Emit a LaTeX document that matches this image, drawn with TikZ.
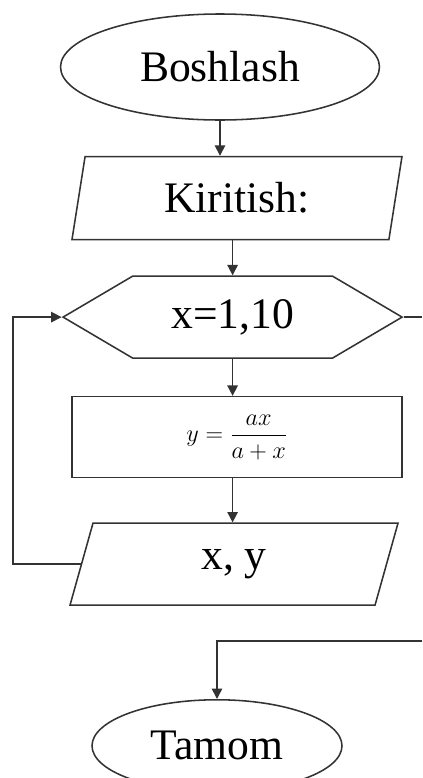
\documentclass[tikz,border=0pt]{standalone}
\usepackage{fontspec}
\setmainfont{Liberation Serif}
\usepackage{amsmath}
\usetikzlibrary{positioning,arrows.meta,shapes.geometric,shapes.symbols}
\definecolor{edgegray}{HTML}{333333}
\tikzset{
  term/.style={ellipse, draw=edgegray, line width=1.1pt, inner sep=0pt,
               font=\fontsize{31}{36}\selectfont},
  io/.style={trapezium, trapezium stretches body, draw=edgegray, line width=1.1pt,
             inner sep=0pt, font=\fontsize{31}{36}\selectfont},
  loopbox/.style={signal, signal to=east and west, signal pointer angle=61,
                  draw=edgegray, line width=1.1pt, inner sep=0pt,
                  font=\fontsize{31}{36}\selectfont},
  proc/.style={rectangle, draw=edgegray, line width=1.1pt, inner sep=0pt,
               font=\fontsize{17}{20}\selectfont},
  arr/.style={-{Triangle[length=2.6mm, width=2.6mm]}, line width=1.1pt, draw=edgegray},
}

\begin{document}
\begin{tikzpicture}[node distance=0.875cm]
  \useasboundingbox (0,0) rectangle (10.55,-19.45);
  \node[term, minimum width=7.975cm, minimum height=2.65cm] (start) at (5.5,-1.675) {Boshlash};
  \node[io, trapezium left angle=67, trapezium right angle=113, minimum width=8.25cm,
        minimum height=2.075cm, below=of start, xshift=0.425cm] (inp) {Kiritish:};
  \node[loopbox, minimum width=8.475cm, minimum height=2.05cm, below=of inp, xshift=-0.11cm] (loop) {x=1,10};
  \node[proc, minimum width=8.25cm, minimum height=2.025cm, below=0.925cm of loop, xshift=0.11cm] (calc) {$y=\dfrac{ax}{a+x}$};
  \node[io, trapezium left angle=52, trapezium right angle=128, minimum width=8.2cm,
        minimum height=2.05cm, below=1.1cm of calc, xshift=-0.075cm] (out) {x, y};
  \node[term, minimum width=6.25cm, minimum height=2.3cm, below=2.325cm of out, xshift=-0.425cm] (stop) {Tamom};
  \coordinate (busL) at (0.325,0);
  \coordinate (edgeR) at (10.55,-16.025);
  \draw[arr] (start.south) -- (start.south |- inp.north);
  \draw[arr] (loop.north |- inp.south) -- (loop.north);
  \draw[arr] (loop.south) -- (loop.south |- calc.north);
  \draw[arr] (loop.south |- calc.south) -- (loop.south |- out.north);
  \draw[arr] (out.west) -- (out.west -| busL) |- (loop.west);
  \draw[edgegray, line width=1.1pt] (loop.east) -- (loop.east -| edgeR);
  \draw[arr] (edgeR) -| (stop.north);
\end{tikzpicture}
\end{document}
